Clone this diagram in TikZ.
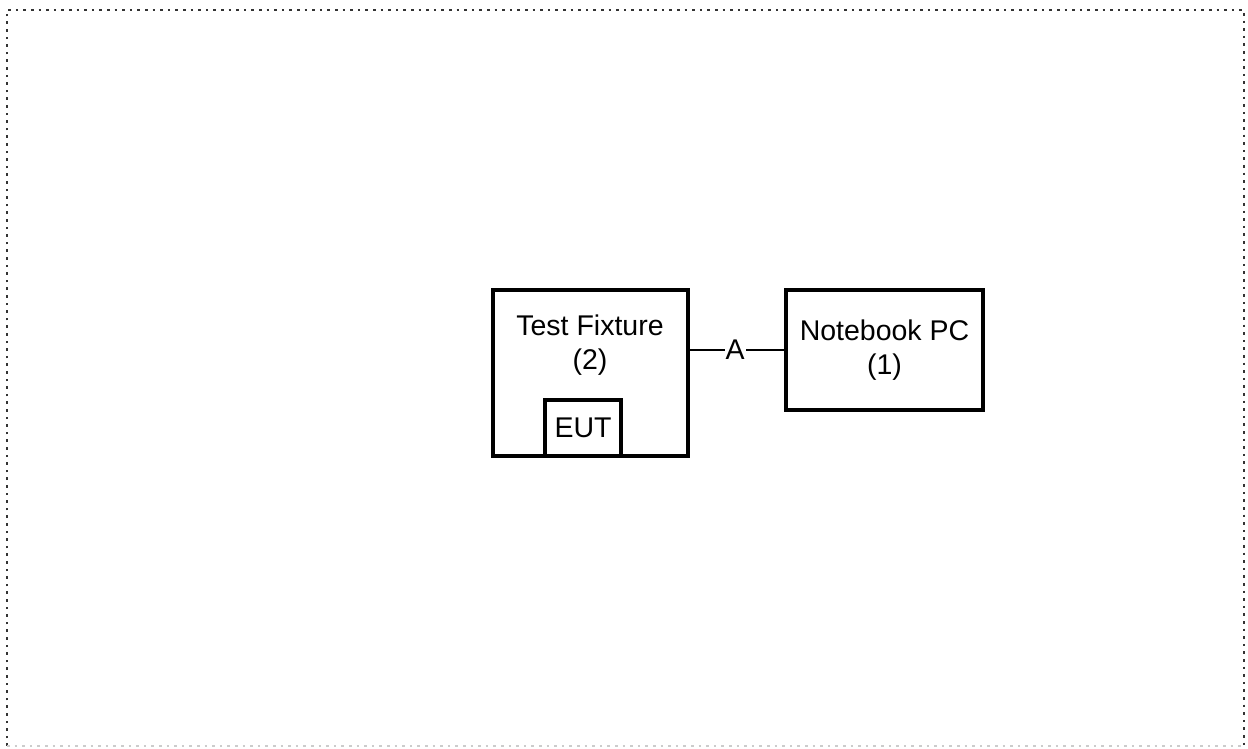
\documentclass[tikz,border=0pt]{standalone}
\usepackage{fontspec}
\setmainfont{Liberation Sans}
\usepackage{tikz}
\usetikzlibrary{positioning, calc}

\begin{document}
\begin{tikzpicture}[
  x=1pt, y=-1pt,
  unit/.style={draw, line width=3.4pt, align=center,
    font=\fontsize{28.5}{34}\selectfont},
  label/.style={align=center, font=\fontsize{28.5}{34}\selectfont},
  wire/.style={line width=2.8pt},
  frame/.style={line width=2.6pt, black!80, dash pattern=on 2.6pt off 5pt},
]
\useasboundingbox (0, 0) rectangle (1248, 749);

% ===== Outer dotted frame =====
\coordinate (ftl) at (7, 10);
\coordinate (ftr) at (1244, 10);
\coordinate (fbl) at (7, 746);
\coordinate (fbr) at (1244, 746);
\draw[frame] (fbl) -- (ftl) -- (ftr) -- (fbr);
\draw[frame, gray!40] (fbl) -- (fbr);

% ===== Test fixture with EUT =====
\node[unit, minimum width=195pt, minimum height=166pt] (fixture)
  at (590.5, 373) {};
\node[label] (fixturetxt) at (590, 345) {Test Fixture\\(2)};
\node[unit, minimum width=76pt, minimum height=56pt] (eut)
  at (583, 428) {EUT};

% ===== Notebook PC =====
\node[unit, minimum width=197pt, minimum height=120pt] (notebook)
  at (884.5, 350) {Notebook PC\\(1)};

% ===== Cable A =====
\draw[wire] (notebook.west -| fixture.east) -- (notebook.west)
  node[pos=0.48, fill=white, inner sep=1pt, label] {A};

\end{tikzpicture}
\end{document}
